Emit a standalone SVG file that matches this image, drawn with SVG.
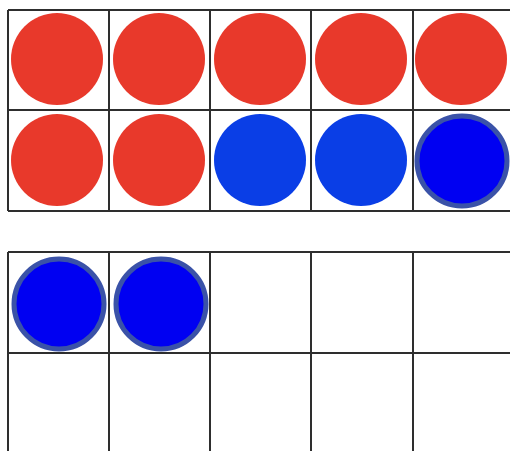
<svg xmlns="http://www.w3.org/2000/svg" width="510" height="451" viewBox="0 0 510 451">
<style>
.grid{fill:none;stroke:#2e2e2e;stroke-width:2}
.red{fill:#e8392b}
.blue{fill:#0a3ee6}
.blueb{fill:#0000f2;stroke:#3a52a8;stroke-width:5}
</style>
<rect width="510" height="451" fill="#ffffff"/>
<g id="frame-top">
<path class="grid" d="M8 10H511M8 110H511M8 211H511M8 10V211M109 10V211M210 10V211M311 10V211M413 10V211"/>
</g>
<g id="frame-bottom">
<path class="grid" d="M8 252H511M8 353H511M8 252V452M109 252V452M210 252V452M311 252V452M413 252V452"/>
</g>
<g id="counters">
<circle class="red" cx="57" cy="59" r="46"/>
<circle class="red" cx="159" cy="59" r="46"/>
<circle class="red" cx="260" cy="59" r="46"/>
<circle class="red" cx="361" cy="59" r="46"/>
<circle class="red" cx="461" cy="59" r="46"/>
<circle class="red" cx="57" cy="160" r="46"/>
<circle class="red" cx="159" cy="160" r="46"/>
<circle class="blue" cx="260" cy="160" r="46"/>
<circle class="blue" cx="361" cy="160" r="46"/>
<circle class="blueb" cx="462" cy="161" r="45"/>
<circle class="blueb" cx="59" cy="304" r="45"/>
<circle class="blueb" cx="161" cy="304" r="45"/>
</g>
</svg>
